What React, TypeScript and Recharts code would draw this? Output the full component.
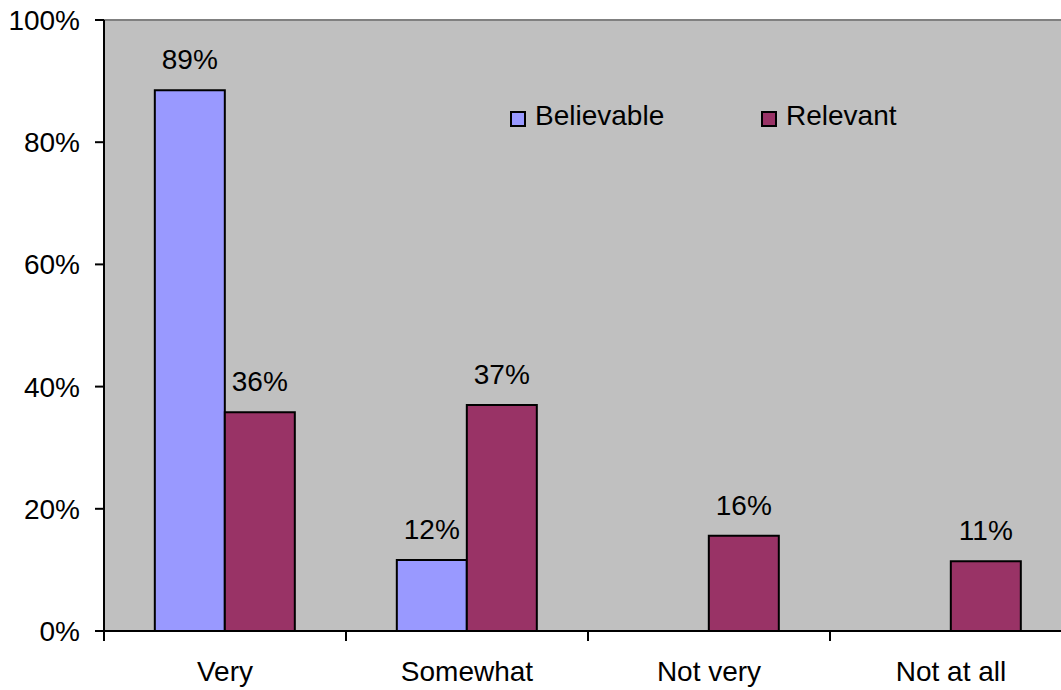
import React from 'react';
import { BarChart, Bar, XAxis, YAxis, CartesianGrid, LabelList, Legend, ReferenceLine } from 'recharts';

const categories = ['Very', 'Somewhat', 'Not very', 'Not at all'];
const believable = [88.5, 11.6, 0, 0];
const relevant = [35.8, 37, 15.6, 11.4];
const yTicks = [0, 20, 40, 60, 80, 100];
const seriesNames = ['Believable', 'Relevant'];
const seriesColors = ['#9999FF', '#993366'];

const data = categories.map((c, i) => ({ name: c, believable: believable[i], relevant: relevant[i] }));

const FONT = '"Liberation Sans", Arial, sans-serif';
const FS = 28;
const CHART_W = 1090;
const CHART_H = 690;
const Y_W = 104;
const M_RIGHT = 18;
const BAND = (CHART_W - Y_W - M_RIGHT) / categories.length;

const XTick = (props: any) => {
  const { x, y, payload, index } = props;
  const isLast = index === categories.length - 1;
  return (
    <g>
      <line x1={x - BAND / 2} x2={x - BAND / 2} y1={y} y2={y + 10} stroke="#000" strokeWidth={2} />
      {isLast && <line x1={x + BAND / 2} x2={x + BAND / 2} y1={y} y2={y + 10} stroke="#000" strokeWidth={2} />}
      <text x={x} y={y + 50} textAnchor="middle" fill="#000" fontSize={FS} fontFamily={FONT}>
        {payload.value}
      </text>
    </g>
  );
};

const LegendContent = () => {
  const lefts = [0, 251];
  return (
    <div style={{ position: 'relative', height: 28, fontFamily: FONT, fontSize: FS, color: '#000' }}>
      {seriesNames.map((n, i) => (
        <div key={n} style={{ position: 'absolute', left: lefts[i], top: 0, display: 'flex', alignItems: 'center', whiteSpace: 'nowrap', lineHeight: '28px' }}>
          <span style={{ display: 'inline-block', width: 12, height: 12, border: '2px solid #000', background: seriesColors[i], marginRight: 9, marginTop: 5, flexShrink: 0 }} />
          <span>{n}</span>
        </div>
      ))}
    </div>
  );
};

const fmt = (v: any) => (v ? `${Math.round(Number(v))}%` : '');

export default function App() {
  return (
    <div style={{ position: 'absolute', left: 0, top: 0, width: 1061, height: 690, overflow: 'hidden', background: '#fff' }}>
      <BarChart
        width={CHART_W}
        height={CHART_H}
        data={data}
        margin={{ top: 20, right: M_RIGHT, bottom: 0, left: 0 }}
        barCategoryGap="21%"
        barGap={0}
      >
        <CartesianGrid fill="#C0C0C0" horizontal={false} vertical={false} />
        <ReferenceLine y={100} stroke="#808080" strokeWidth={2} />
        <XAxis
          dataKey="name"
          height={59}
          tickLine={false}
          tickSize={0}
          tickMargin={0}
          axisLine={{ stroke: '#000', strokeWidth: 2 }}
          tick={<XTick />}
          interval={0}
        />
        <YAxis
          width={Y_W}
          domain={[0, 100]}
          ticks={yTicks}
          tickFormatter={(v: number) => `${v}%`}
          tick={{ fill: '#000', fontSize: FS, fontFamily: FONT }}
          tickSize={9}
          tickMargin={15}
          axisLine={{ stroke: '#000', strokeWidth: 2 }}
          tickLine={{ stroke: '#000', strokeWidth: 2 }}
          allowDataOverflow
        />
        <Legend
          layout="horizontal"
          verticalAlign="middle"
          align="center"
          content={<LegendContent />}
          wrapperStyle={{ top: 102, left: 510, width: 420, height: 28 }}
        />
        <Bar dataKey="believable" name="Believable" fill={seriesColors[0]} stroke="#000" strokeWidth={2} isAnimationActive={false}>
          <LabelList dataKey="believable" position="top" offset={21} formatter={fmt} fill="#000" fontSize={FS} fontFamily={FONT} />
        </Bar>
        <Bar dataKey="relevant" name="Relevant" fill={seriesColors[1]} stroke="#000" strokeWidth={2} isAnimationActive={false}>
          <LabelList dataKey="relevant" position="top" offset={21} formatter={fmt} fill="#000" fontSize={FS} fontFamily={FONT} />
        </Bar>
      </BarChart>
    </div>
  );
}
